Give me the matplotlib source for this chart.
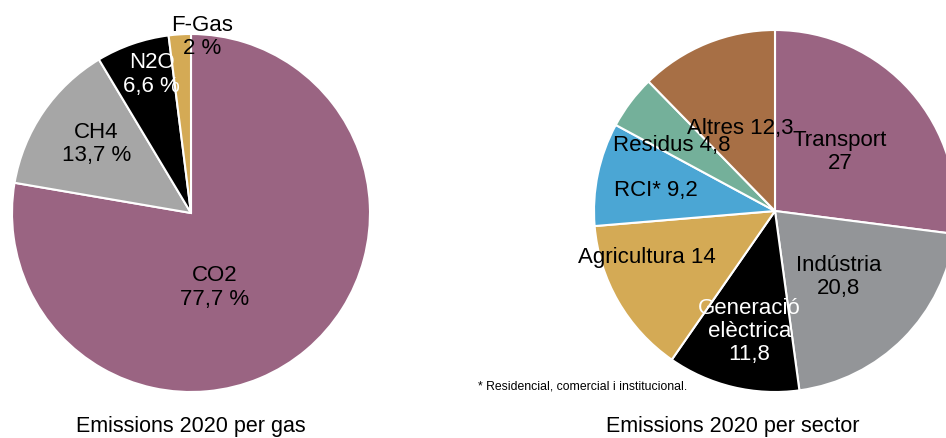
import matplotlib.pyplot as plt

plt.rcParams['font.family'] = ['Liberation Sans', 'DejaVu Sans']

# Data
gases = ['CO2', 'CH4', 'N2O', 'F-Gas']
gas_share = [77.7, 13.7, 6.6, 2.0]
gas_labels = ['CO2\n77,7 %', 'CH4\n13,7 %', 'N2O\n6,6 %', 'F-Gas\n2 %']

sectors = ['Transport', 'Indústria', 'Generació elèctrica', 'Agricultura',
           'RCI*', 'Residus', 'Altres']
sector_share = [27.0, 20.8, 11.8, 14.0, 9.2, 4.8, 12.3]
sector_labels = ['Transport\n27', 'Indústria\n20,8', 'Generació\nelèctrica\n11,8',
                 'Agricultura 14', 'RCI* 9,2', 'Residus 4,8', 'Altres 12,3']

# Style / layout
gas_colors = ['#9a6482', '#a6a6a6', '#000000', '#d4aa55']
gas_text_colors = ['black', 'black', 'white', 'black']
gas_label_pos = [(0.13, -0.41), (-0.53, 0.39), (-0.22, 0.78), (0.06, 0.99)]

sector_colors = ['#9a6482', '#939598', '#000000', '#d4aa55',
                 '#4ba6d4', '#74b09a', '#a76f45']
sector_text_colors = ['black', 'black', 'white', 'black', 'black', 'black', 'black']
sector_label_pos = [(0.36, 0.33), (0.35, -0.36), (-0.14, -0.66), (-0.71, -0.25),
                    (-0.66, 0.12), (-0.57, 0.37), (-0.19, 0.46)]

W, H = 946, 439
fig = plt.figure(figsize=(W / 100, H / 100), dpi=100)


def pie_axes(cx, cy, r):
    return fig.add_axes([(cx - r) / W, (H - cy - r) / H, 2 * r / W, 2 * r / H])


def finish(ax):
    ax.set_xlim(-1, 1)
    ax.set_ylim(-1, 1)
    ax.axis('off')


ax1 = pie_axes(191, 214, 179)
ax1.pie(gas_share, colors=gas_colors, startangle=90, counterclock=False,
        radius=1, wedgeprops=dict(edgecolor='white', linewidth=1.5))
finish(ax1)
for lab, (x, y), c in zip(gas_labels, gas_label_pos, gas_text_colors):
    ax1.text(x, y, lab, ha='center', va='center', fontsize=16, color=c,
             linespacing=1.15, clip_on=False)

ax2 = pie_axes(775, 212, 181)
ax2.pie(sector_share, colors=sector_colors, startangle=90, counterclock=False,
        radius=1, wedgeprops=dict(edgecolor='white', linewidth=1.5))
finish(ax2)
for lab, (x, y), c in zip(sector_labels, sector_label_pos, sector_text_colors):
    ax2.text(x, y, lab, ha='center', va='center', fontsize=16, color=c,
             linespacing=1.15)

fig.text(478 / W, 1 - 387 / H, '* Residencial, comercial i institucional.',
         fontsize=8.8, ha='left', va='center')
fig.text(191 / W, 1 - 427 / H, 'Emissions 2020 per gas', fontsize=15.5,
         ha='center', va='center')
fig.text(733 / W, 1 - 427 / H, 'Emissions 2020 per sector', fontsize=15.5,
         ha='center', va='center')

fig.savefig('out.png', dpi=100)
